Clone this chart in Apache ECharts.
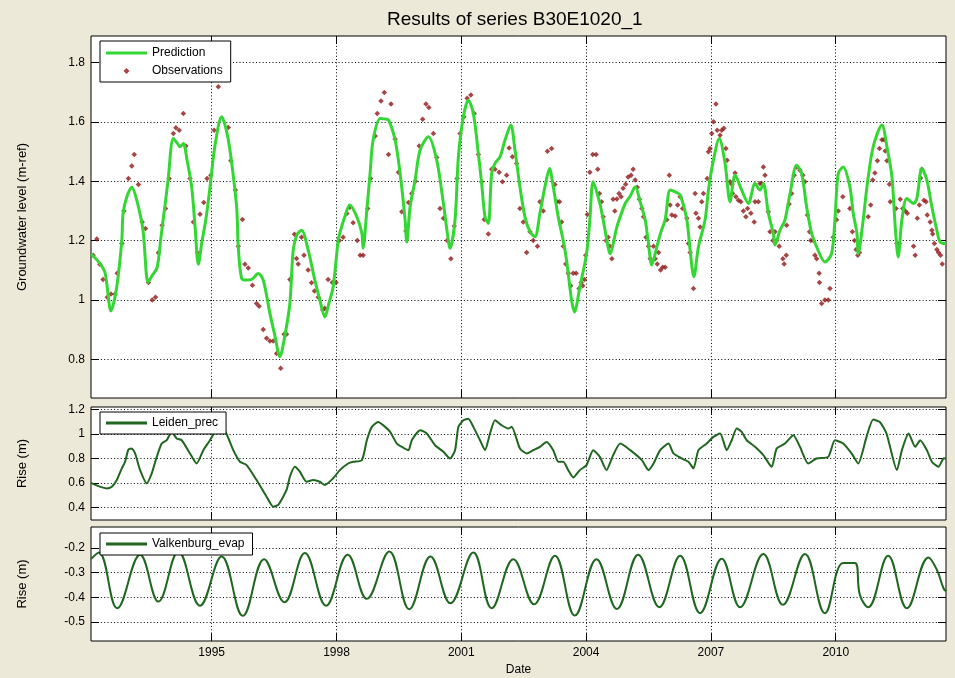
<!DOCTYPE html>
<html><head><meta charset="utf-8">
<script src="https://cdn.jsdelivr.net/npm/echarts@6/dist/echarts.min.js"></script>
<style>html,body{margin:0;padding:0;background:#ece9d8}#c{width:955px;height:678px}</style>
</head><body><div id="c"></div>
<script>
const chartTitle = 'Results of series B30E1020_1';
const xTicks = [1995, 1998, 2001, 2004, 2007, 2010];
const levelTicks = [0.8, 1, 1.2, 1.4, 1.6, 1.8];
const precTicks = [0.4, 0.6, 0.8, 1, 1.2];
const evapTicks = [-0.5, -0.4, -0.3, -0.2];

const predYears = [1992.10,1992.31,1992.44,1992.58,1992.72,1992.84,1992.87,1992.96,1993.08,1993.20,1993.35,1993.47,1993.56,1993.69,1993.78,1993.88,1993.95,1994.08,1994.19,1994.24,1994.32,1994.41,1994.52,1994.60,1994.68,1994.77,1994.86,1994.96,1995.08,1995.24,1995.34,1995.44,1995.60,1995.64,1995.72,1995.84,1995.97,1996.12,1996.24,1996.40,1996.52,1996.64,1996.76,1996.88,1996.96,1997.05,1997.16,1997.32,1997.48,1997.60,1997.72,1997.82,1997.92,1998.04,1998.08,1998.20,1998.32,1998.49,1998.61,1998.64,1998.73,1998.81,1998.88,1999.05,1999.14,1999.25,1999.41,1999.53,1999.65,1999.69,1999.77,1999.89,2000.01,2000.21,2000.41,2000.57,2000.66,2000.73,2000.85,2000.93,2001.05,2001.17,2001.29,2001.41,2001.49,2001.57,2001.65,2001.73,2001.81,2001.93,2002.05,2002.19,2002.29,2002.41,2002.53,2002.65,2002.77,2002.89,2003.01,2003.12,2003.21,2003.33,2003.45,2003.53,2003.65,2003.72,2003.85,2004.01,2004.09,2004.17,2004.33,2004.41,2004.50,2004.57,2004.74,2004.82,2004.94,2005.06,2005.18,2005.30,2005.42,2005.49,2005.58,2005.70,2005.80,2005.90,2006.02,2006.14,2006.26,2006.42,2006.50,2006.59,2006.70,2006.86,2006.94,2007.06,2007.20,2007.34,2007.46,2007.58,2007.74,2007.90,2008.06,2008.18,2008.26,2008.38,2008.50,2008.54,2008.66,2008.78,2008.90,2009.06,2009.18,2009.30,2009.42,2009.54,2009.74,2009.90,2009.98,2010.06,2010.18,2010.34,2010.42,2010.51,2010.54,2010.66,2010.75,2010.90,2011.11,2011.23,2011.35,2011.43,2011.50,2011.59,2011.71,2011.87,2011.95,2012.07,2012.19,2012.31,2012.43,2012.51,2012.65];
const predLevel = [1.155,1.124,1.09,0.963,1.045,1.20,1.29,1.347,1.38,1.336,1.235,1.06,1.08,1.11,1.21,1.32,1.40,1.544,1.525,1.516,1.527,1.47,1.38,1.25,1.12,1.20,1.27,1.38,1.52,1.617,1.58,1.505,1.314,1.179,1.073,1.067,1.07,1.089,1.067,0.955,0.88,0.809,0.88,0.989,1.168,1.22,1.235,1.168,1.067,1.0,0.943,0.99,1.044,1.2,1.225,1.28,1.32,1.28,1.225,1.174,1.303,1.43,1.538,1.611,1.61,1.606,1.538,1.426,1.269,1.195,1.314,1.404,1.505,1.55,1.471,1.325,1.23,1.174,1.27,1.482,1.617,1.673,1.628,1.493,1.392,1.28,1.258,1.426,1.46,1.482,1.538,1.589,1.505,1.381,1.28,1.23,1.213,1.292,1.381,1.443,1.381,1.28,1.2,1.134,1.0,0.96,1.044,1.156,1.27,1.398,1.325,1.27,1.2,1.156,1.246,1.28,1.325,1.35,1.381,1.33,1.27,1.2,1.118,1.179,1.23,1.27,1.37,1.364,1.353,1.27,1.168,1.078,1.179,1.27,1.37,1.471,1.544,1.46,1.331,1.421,1.37,1.325,1.392,1.37,1.392,1.292,1.224,1.185,1.235,1.27,1.357,1.454,1.426,1.314,1.224,1.179,1.128,1.156,1.27,1.426,1.448,1.381,1.292,1.224,1.156,1.27,1.381,1.516,1.589,1.516,1.415,1.246,1.145,1.27,1.342,1.325,1.342,1.443,1.404,1.314,1.235,1.195,1.19];

const obsYears = [1992.15,1992.24,1992.31,1992.39,1992.49,1992.58,1992.68,1992.73,1992.84,1992.89,1993.00,1993.08,1993.14,1993.24,1993.33,1993.41,1993.48,1993.57,1993.65,1993.72,1993.81,1993.89,1993.98,1994.08,1994.14,1994.22,1994.32,1994.38,1994.48,1994.56,1994.66,1994.72,1994.81,1994.89,1994.98,1995.06,1995.16,1995.40,1995.46,1995.57,1995.64,1995.74,1995.80,1995.88,1995.98,1996.08,1996.14,1996.24,1996.32,1996.40,1996.48,1996.56,1996.66,1996.74,1996.80,1996.88,1996.99,1997.04,1997.08,1997.16,1997.22,1997.32,1997.40,1997.47,1997.56,1997.67,1997.72,1997.80,1997.90,1997.99,1998.07,1998.16,1998.25,1998.32,1998.40,1998.50,1998.57,1998.64,1998.75,1998.82,1998.93,1998.98,1999.07,1999.15,1999.25,1999.31,1999.41,1999.49,1999.57,1999.67,1999.73,1999.81,1999.90,1999.99,2000.07,2000.15,2000.22,2000.33,2000.41,2000.49,2000.57,2000.66,2000.75,2000.83,2000.90,2000.97,2001.06,2001.14,2001.23,2001.31,2001.41,2001.49,2001.55,2001.65,2001.73,2001.81,2001.91,2001.99,2002.09,2002.15,2002.23,2002.33,2002.41,2002.49,2002.57,2002.65,2002.73,2002.83,2002.89,2002.97,2003.07,2003.17,2003.25,2003.30,2003.36,2003.41,2003.45,2003.51,2003.57,2003.63,2003.69,2003.76,2003.83,2003.88,2003.92,2003.96,2003.99,2004.03,2004.09,2004.16,2004.24,2004.28,2004.32,2004.37,2004.41,2004.48,2004.53,2004.57,2004.62,2004.65,2004.69,2004.74,2004.79,2004.84,2004.89,2004.95,2005.01,2005.08,2005.13,2005.18,2005.23,2005.28,2005.34,2005.38,2005.44,2005.50,2005.54,2005.62,2005.66,2005.71,2005.74,2005.79,2005.84,2005.90,2005.94,2006.00,2006.02,2006.06,2006.14,2006.20,2006.26,2006.32,2006.42,2006.46,2006.50,2006.58,2006.62,2006.64,2006.70,2006.74,2006.78,2006.82,2006.91,2006.94,2006.98,2007.02,2007.06,2007.12,2007.15,2007.22,2007.26,2007.31,2007.36,2007.39,2007.46,2007.50,2007.52,2007.58,2007.60,2007.66,2007.72,2007.78,2007.84,2007.88,2007.96,2008.04,2008.06,2008.14,2008.18,2008.22,2008.26,2008.30,2008.38,2008.42,2008.49,2008.54,2008.58,2008.64,2008.73,2008.76,2008.81,2008.82,2008.88,2008.94,2009.00,2009.06,2009.14,2009.21,2009.26,2009.32,2009.37,2009.40,2009.46,2009.50,2009.54,2009.60,2009.61,2009.66,2009.74,2009.82,2009.86,2009.94,2010.02,2010.06,2010.17,2010.34,2010.40,2010.45,2010.49,2010.53,2010.57,2010.78,2010.84,2010.89,2010.94,2011.00,2011.05,2011.11,2011.16,2011.19,2011.23,2011.29,2011.31,2011.45,2011.47,2011.53,2011.55,2011.61,2011.67,2011.72,2011.87,2011.91,2011.96,2012.01,2012.04,2012.07,2012.12,2012.17,2012.20,2012.27,2012.31,2012.33,2012.37,2012.43,2012.47,2012.52,2012.56];
const obsLevel = [1.151,1.205,1.12,1.069,1.009,1.02,1.02,1.09,1.19,1.30,1.409,1.451,1.49,1.389,1.263,1.241,1.059,1.0,1.009,1.159,1.252,1.308,1.409,1.561,1.58,1.572,1.628,1.519,1.409,1.263,1.159,1.289,1.328,1.409,1.42,1.572,1.718,1.581,1.469,1.37,1.181,1.271,1.12,1.108,1.05,0.988,0.979,0.901,0.871,0.862,0.862,0.82,0.77,0.885,0.885,1.069,1.221,1.14,1.121,1.211,1.151,1.101,1.058,1.03,1.009,0.966,0.972,1.069,1.059,1.059,1.2,1.211,1.291,1.312,1.26,1.2,1.151,1.151,1.308,1.409,1.552,1.628,1.67,1.699,1.49,1.66,1.542,1.43,1.297,1.232,1.328,1.359,1.40,1.519,1.609,1.66,1.648,1.561,1.48,1.308,1.275,1.2,1.139,1.249,1.409,1.561,1.617,1.679,1.69,1.628,1.49,1.398,1.271,1.222,1.44,1.44,1.43,1.398,1.42,1.512,1.482,1.46,1.308,1.263,1.16,1.23,1.2,1.181,1.331,1.30,1.501,1.51,1.389,1.331,1.331,1.263,1.181,1.121,1.09,1.048,1.09,1.09,1.039,1.059,1.048,1.069,1.151,1.288,1.43,1.49,1.49,1.44,1.359,1.331,1.28,1.2,1.211,1.181,1.139,1.339,1.30,1.34,1.359,1.348,1.376,1.39,1.414,1.42,1.44,1.404,1.38,1.339,1.308,1.28,1.211,1.181,1.139,1.181,1.139,1.121,1.16,1.101,1.11,1.11,1.27,1.42,1.32,1.286,1.283,1.32,1.348,1.308,1.275,1.19,1.16,1.039,1.359,1.292,1.275,1.246,1.331,1.359,1.409,1.499,1.51,1.561,1.60,1.66,1.572,1.555,1.572,1.578,1.51,1.471,1.398,1.389,1.359,1.428,1.348,1.336,1.331,1.30,1.28,1.308,1.292,1.263,1.331,1.331,1.392,1.392,1.448,1.42,1.297,1.23,1.2,1.23,1.2,1.181,1.139,1.121,1.151,1.252,1.323,1.359,1.42,1.448,1.437,1.42,1.398,1.286,1.23,1.2,1.2,1.151,1.139,1.09,1.059,0.988,1.0,1.0,1.039,1.211,1.27,1.30,1.348,1.308,1.23,1.2,1.17,1.151,1.16,1.28,1.32,1.404,1.428,1.469,1.51,1.54,1.54,1.502,1.469,1.39,1.331,1.308,1.19,1.19,1.339,1.308,1.30,1.292,1.181,1.151,1.275,1.32,1.411,1.44,1.336,1.331,1.286,1.263,1.235,1.222,1.19,1.17,1.16,1.151,1.121];

const precYears = [1992.10,1992.31,1992.48,1992.60,1992.72,1992.84,1992.92,1993.00,1993.08,1993.16,1993.28,1993.44,1993.56,1993.68,1993.80,1993.92,1994.04,1994.16,1994.28,1994.48,1994.64,1994.80,1994.96,1995.12,1995.22,1995.36,1995.52,1995.68,1995.84,1996.08,1996.32,1996.48,1996.60,1996.80,1996.88,1997.00,1997.12,1997.28,1997.44,1997.60,1997.72,1997.92,1998.08,1998.28,1998.40,1998.61,1998.73,1998.85,1999.00,1999.17,1999.29,1999.45,1999.57,1999.73,1999.81,2000.01,2000.17,2000.37,2000.57,2000.73,2000.85,2000.93,2001.05,2001.17,2001.29,2001.45,2001.57,2001.69,2001.81,2001.97,2002.13,2002.21,2002.41,2002.57,2002.73,2002.89,2003.05,2003.21,2003.33,2003.45,2003.57,2003.69,2003.85,2004.01,2004.17,2004.33,2004.49,2004.65,2004.82,2005.06,2005.34,2005.50,2005.62,2005.78,2005.98,2006.10,2006.30,2006.46,2006.58,2006.70,2006.90,2007.06,2007.22,2007.38,2007.50,2007.62,2007.74,2007.86,2008.06,2008.26,2008.46,2008.58,2008.78,2008.98,2009.14,2009.34,2009.54,2009.82,2009.98,2010.18,2010.38,2010.54,2010.74,2010.90,2011.06,2011.22,2011.47,2011.59,2011.75,2011.91,2012.03,2012.19,2012.31,2012.47,2012.59,2012.65];
const precRise = [0.60,0.569,0.555,0.569,0.623,0.718,0.772,0.872,0.88,0.84,0.704,0.596,0.677,0.812,0.921,0.948,1.016,0.962,0.948,0.84,0.758,0.867,0.948,1.04,1.07,0.997,0.867,0.772,0.745,0.623,0.487,0.406,0.42,0.542,0.65,0.731,0.691,0.609,0.623,0.609,0.582,0.637,0.704,0.758,0.772,0.785,0.948,1.057,1.097,1.057,1.016,0.921,0.894,0.867,0.948,1.03,1.003,0.907,0.853,0.799,0.867,1.057,1.111,1.124,1.057,0.948,0.867,1.003,1.111,1.07,1.043,1.057,0.88,0.84,0.867,0.894,0.934,0.867,0.772,0.772,0.704,0.644,0.704,0.745,0.867,0.812,0.704,0.826,0.921,0.867,0.785,0.704,0.758,0.867,0.921,0.84,0.799,0.772,0.718,0.867,0.921,0.975,1.003,0.867,0.948,1.043,1.016,0.948,0.894,0.826,0.731,0.88,0.921,0.989,0.894,0.758,0.799,0.812,0.948,0.921,0.84,0.758,0.975,1.116,1.097,1.003,0.704,0.867,1.003,0.894,0.948,0.867,0.772,0.731,0.799,0.80];

const evapYears = [1992.10,1992.29,1992.73,1993.28,1993.72,1994.20,1994.72,1995.24,1995.75,1996.26,1996.75,1997.24,1997.75,1998.27,1998.73,1999.27,1999.75,2000.26,2000.74,2001.29,2001.73,2002.25,2002.75,2003.25,2003.73,2004.25,2004.74,2005.25,2005.76,2006.26,2006.74,2007.26,2007.70,2008.26,2008.73,2009.26,2009.74,2010.18,2010.46,2010.58,2010.78,2011.26,2011.71,2012.23,2012.43,2012.59,2012.65];
const evapRise = [-0.245,-0.218,-0.444,-0.227,-0.417,-0.214,-0.434,-0.234,-0.475,-0.245,-0.42,-0.22,-0.434,-0.227,-0.406,-0.214,-0.448,-0.234,-0.424,-0.218,-0.444,-0.245,-0.428,-0.231,-0.474,-0.245,-0.447,-0.227,-0.44,-0.231,-0.464,-0.243,-0.44,-0.224,-0.43,-0.224,-0.464,-0.261,-0.261,-0.39,-0.44,-0.231,-0.444,-0.238,-0.288,-0.363,-0.375];

const pairs = (xs, ys) => xs.map((x, i) => [x, ys[i]]);
const FONT = '"Liberation Sans", Arial, Helvetica, sans-serif';
const XMIN = 1992.10, XMAX = 2012.65;
const panels = [
  {top: 36, height: 362, ymin: 0.67, ymax: 1.889, ticks: levelTicks, name: 'Groundwater level (m-ref)'},
  {top: 407, height: 113, ymin: 0.297, ymax: 1.219, ticks: precTicks, name: 'Rise (m)'},
  {top: 527, height: 114, ymin: -0.577, ymax: -0.1145, ticks: evapTicks, name: 'Rise (m)'}
];
const gridDash = {color: '#000', width: 1, type: [1, 2.3]};
const fmt = v => String(Math.round(v * 1000) / 1000);

const grids = [], xAxes = [], yAxes = [];
panels.forEach((p, i) => {
  grids.push({left: 91, width: 855, top: p.top, height: p.height, show: true,
    backgroundColor: '#fff', borderColor: '#000', borderWidth: 1});
  const last = i === panels.length - 1;
  xAxes.push({type: 'value', gridIndex: i, min: XMIN, max: XMAX, position: 'bottom',
    name: last ? 'Date' : '', nameLocation: 'middle', nameGap: 23,
    nameTextStyle: {color: '#000', fontSize: 12, fontFamily: FONT},
    axisLine: {show: false},
    axisTick: {show: true, inside: true, length: 8, customValues: xTicks, lineStyle: {color: '#000'}},
    axisLabel: {show: last, customValues: xTicks, margin: 6, color: '#000', fontSize: 12, fontFamily: FONT, formatter: fmt},
    splitLine: {show: true, lineStyle: gridDash}});
  xAxes.push({type: 'value', gridIndex: i, min: XMIN, max: XMAX, position: 'top',
    axisLine: {show: false},
    axisTick: {show: true, inside: true, length: 8, customValues: xTicks, lineStyle: {color: '#000'}},
    axisLabel: {show: false}, splitLine: {show: false}});
  yAxes.push({type: 'value', gridIndex: i, min: p.ymin, max: p.ymax, position: 'left',
    name: p.name, nameLocation: 'middle', nameGap: 62,
    nameTextStyle: {color: '#000', fontSize: 13, fontFamily: FONT},
    axisLine: {show: false},
    axisTick: {show: true, inside: true, length: 8, customValues: p.ticks, lineStyle: {color: '#000'}},
    axisLabel: {show: true, customValues: p.ticks, margin: 6, color: '#000', fontSize: 12, fontFamily: FONT, formatter: fmt},
    splitLine: {show: true, lineStyle: gridDash}});
  yAxes.push({type: 'value', gridIndex: i, min: p.ymin, max: p.ymax, position: 'right',
    axisLine: {show: false},
    axisTick: {show: true, inside: true, length: 8, customValues: p.ticks, lineStyle: {color: '#000'}},
    axisLabel: {show: false}, splitLine: {show: false}});
});

const legendBase = {orient: 'vertical', itemWidth: 41, itemHeight: 6, itemGap: 4,
  padding: [4, 8, 4, 6], backgroundColor: '#fff', borderColor: '#000', borderWidth: 1, borderRadius: 0,
  selectedMode: false, textStyle: {color: '#000', fontSize: 12, lineHeight: 14, fontFamily: FONT}};
const lineIcon = 'path://M0,0L40,0L40,3L0,3Z';
const diamondIcon = 'path://M0,-1L1,0L0,1L-1,0Z';

const chart = echarts.init(document.getElementById('c'), null, {renderer: 'canvas'});
chart.setOption({
  animation: false,
  backgroundColor: '#ece9d8',
  title: {text: chartTitle, left: 387, top: 10, padding: 0,
    textStyle: {color: '#000', fontSize: 19, fontWeight: 'normal', fontFamily: FONT}},
  legend: [
    Object.assign({}, legendBase, {left: 100, top: 41, padding: [5, 8, 4, 6],
      data: [{name: 'Prediction', icon: lineIcon}, {name: 'Observations', icon: diamondIcon}]}),
    Object.assign({}, legendBase, {left: 100, top: 412, data: [{name: 'Leiden_prec', icon: lineIcon}]}),
    Object.assign({}, legendBase, {left: 100, top: 533, data: [{name: 'Valkenburg_evap', icon: lineIcon}]})
  ],
  grid: grids,
  xAxis: xAxes,
  yAxis: yAxes,
  series: [
    {name: 'Prediction', type: 'line', xAxisIndex: 0, yAxisIndex: 0, data: pairs(predYears, predLevel),
      symbol: 'none', smooth: 0.3, color: '#33d633', lineStyle: {color: '#33d633', width: 3}},
    {name: 'Observations', type: 'scatter', xAxisIndex: 0, yAxisIndex: 0, data: pairs(obsYears, obsLevel),
      symbol: 'diamond', symbolSize: 5.5, color: '#901818', itemStyle: {color: '#901818'}},
    {name: 'Leiden_prec', type: 'line', xAxisIndex: 2, yAxisIndex: 2, data: pairs(precYears, precRise),
      symbol: 'none', smooth: 0.2, color: '#1f661f', lineStyle: {color: '#1f661f', width: 2}},
    {name: 'Valkenburg_evap', type: 'line', xAxisIndex: 4, yAxisIndex: 4, data: pairs(evapYears, evapRise),
      symbol: 'none', smooth: 0.4, color: '#1f661f', lineStyle: {color: '#1f661f', width: 2}}
  ]
});
</script></body></html>
